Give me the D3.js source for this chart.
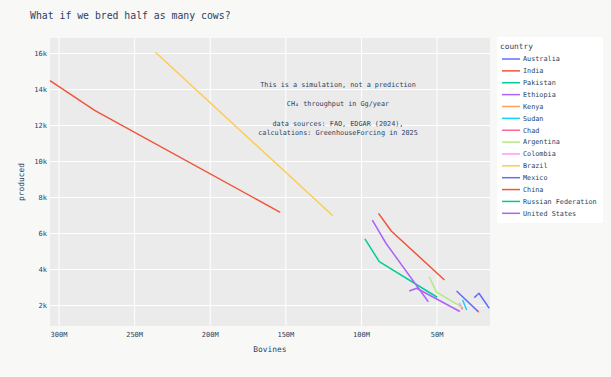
<!DOCTYPE html>
<html>
<head>
<meta charset="utf-8">
<script src="https://cdn.jsdelivr.net/npm/d3@7"></script>
<style>
  body { margin: 0; background: #f8f8f7; }
  text { font-family: "DejaVu Sans Mono", "Liberation Mono", monospace; fill: #2a3f5f; }
</style>
</head>
<body>
<div id="chart"></div>
<script>
// Data (bovines in millions, produced in Gg/year)
var countries   =   ["Australia", "India", "Pakistan", "Ethiopia", "Kenya", "Sudan", "Chad",
                     "Argentina", "Colombia", "Brazil", "Mexico", "China", "Russian Federation", "United States"];
var colors      =   ["#636efa", "#EF553B", "#00cc96", "#ab63fa", "#FFA15A", "#19d3f3", "#FF6692",
                     "#B6E880", "#FF97FF", "#FECB52", "#636efa", "#EF553B", "#00cc96", "#ab63fa"];
var bovines     =   [
    [25.1, 22.0, 15.2],
    [305.6, 275.8, 153.4],
    [97.4, 87.9, 49.6],
    [68.1, 63.2, 34.6],
    [23.0, 22.0],
    [32.8, 30.1],
    [34.1, 32.8],
    [54.9, 50.0, 32.8],
    [35.1, 33.8],
    [235.9, 118.6],
    [36.8, 22.5],
    [88.4, 80.0, 44.8],
    [],
    [92.5, 83.5, 55.5]
];
var produced    =   [
    [2410, 2650, 1820],
    [14460, 12800, 7150],
    [5670, 4410, 2430],
    [2780, 2930, 1640],
    [1690, 1580],
    [2280, 1720],
    [1960, 1760],
    [3570, 2710, 1850],
    [2110, 1940],
    [16040, 6960],
    [2780, 1630],
    [7090, 6110, 3390],
    [],
    [6720, 5430, 2180]
];
var x_ticks     =   [300, 250, 200, 150, 100, 50];
var y_ticks     =   [2000, 4000, 6000, 8000, 10000, 12000, 14000, 16000];
var notes       =   ["This is a simulation, not a prediction",
                     "CH\u2084 throughput in Gg/year",
                     "data sources: FAO, EDGAR (2024),",
                     "calculations: GreenhouseForcing in 2025"];

var chart_width     =   611;
var chart_height    =   377;
var plot_left = 50, plot_right = 490, plot_top = 38, plot_bottom = 326;

// Scales
var x_scale = d3.scaleLinear().domain([305.6, 14.7]).range([plot_left, plot_right]);
var y_scale = d3.scaleLinear().domain([833, 16833]).range([plot_bottom, plot_top]);

var svg = d3.select("#chart").append("svg")
    .attr("width", chart_width)
    .attr("height", chart_height);

svg.append("rect").attr("width", chart_width).attr("height", chart_height).attr("fill", "#f8f8f7");
svg.append("rect")
    .attr("x", plot_left).attr("y", plot_top)
    .attr("width", plot_right - plot_left).attr("height", plot_bottom - plot_top)
    .attr("fill", "#ebebeb");

// Axes
var x_axis = d3.axisBottom(x_scale)
    .tickValues(x_ticks)
    .tickFormat(function(d) { return d + "M"; })
    .tickSize(-(plot_bottom - plot_top))
    .tickPadding(6);
var y_axis = d3.axisLeft(y_scale)
    .tickValues(y_ticks)
    .tickFormat(function(d) { return (d / 1000) + "k"; })
    .tickSize(-(plot_right - plot_left))
    .tickPadding(3);

var gx = svg.append("g")
    .attr("transform", "translate(0," + plot_bottom + ")")
    .call(x_axis);
var gy = svg.append("g")
    .attr("transform", "translate(" + plot_left + ",0)")
    .call(y_axis);

[gx, gy].forEach(function(g) {
    g.select(".domain").remove();
    g.selectAll("line").attr("stroke", "#ffffff").attr("stroke-width", 1);
    g.selectAll("text").style("font-size", "7px").attr("fill", "#2a3f5f");
});

// Lines
var line = d3.line()
    .x(function(d) { return x_scale(d[0]); })
    .y(function(d) { return y_scale(d[1]); });

var plot = svg.append("g");
countries.forEach(function(c, i) {
    var pts = bovines[i].map(function(b, j) { return [b, produced[i][j]]; });
    if (pts.length < 2) return;
    plot.append("path")
        .attr("d", line(pts))
        .attr("fill", "none")
        .attr("stroke", colors[i])
        .attr("stroke-width", 1.5)
        .attr("stroke-linejoin", "round");
});

// Annotation
var note_y = [86.5, 106, 125.5, 135];
notes.forEach(function(t, i) {
    svg.append("text")
        .attr("x", 338).attr("y", note_y[i])
        .attr("text-anchor", "middle")
        .style("font-size", "6.8px")
        .text(t);
});

// Titles
svg.append("text")
    .attr("x", 30).attr("y", 19)
    .style("font-size", "9.8px")
    .text("What if we bred half as many cows?");
svg.append("text")
    .attr("x", (plot_left + plot_right) / 2).attr("y", 352)
    .attr("text-anchor", "middle")
    .style("font-size", "7.9px")
    .text("Bovines");
svg.append("text")
    .attr("transform", "translate(24,182) rotate(-90)")
    .attr("text-anchor", "middle")
    .style("font-size", "7.9px")
    .text("produced");

// Legend
var legend = svg.append("g");
legend.append("rect")
    .attr("x", 497).attr("y", 37)
    .attr("width", 106).attr("height", 186)
    .attr("fill", "#ffffff");
legend.append("text")
    .attr("x", 500).attr("y", 49)
    .style("font-size", "7.8px")
    .text("country");
countries.forEach(function(c, i) {
    var y = 59 + i * 11.87;
    legend.append("line")
        .attr("x1", 502).attr("x2", 520)
        .attr("y1", y).attr("y2", y)
        .attr("stroke", colors[i])
        .attr("stroke-width", 1.5);
    legend.append("text")
        .attr("x", 523).attr("y", y + 2.4)
        .style("font-size", "6.8px")
        .text(c);
});
</script>
</body>
</html>
